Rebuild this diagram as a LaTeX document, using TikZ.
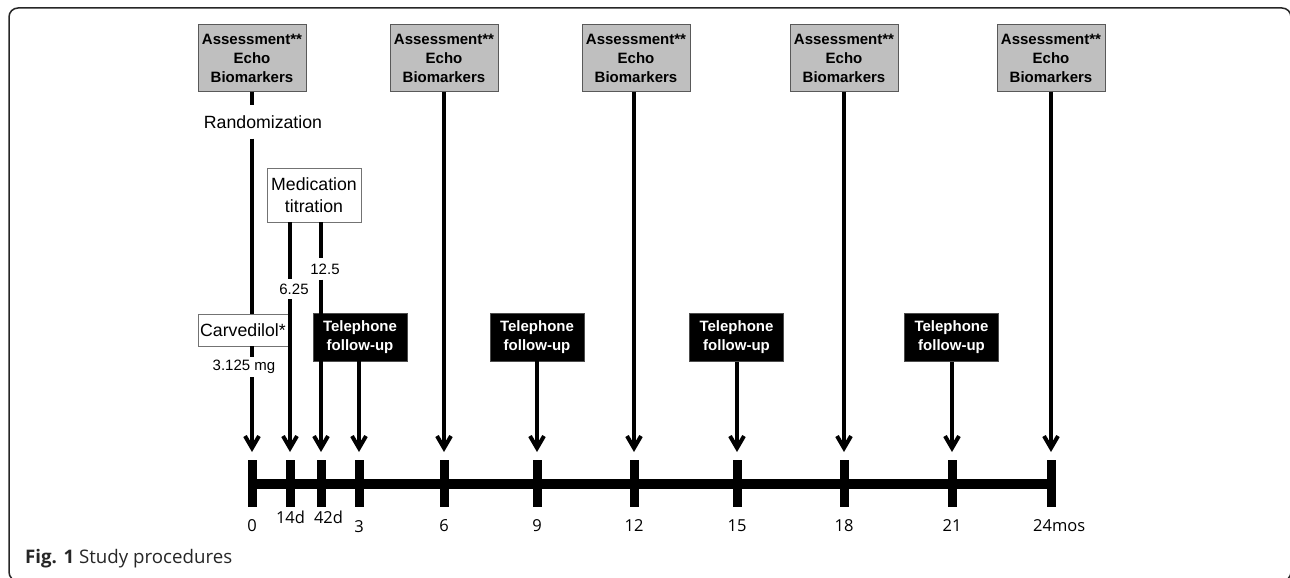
\documentclass[tikz,border=0pt]{standalone}
\usepackage{fontspec}
\setmainfont{Liberation Sans}
\newfontfamily\osans{Open Sans}
\usetikzlibrary{arrows.meta}
\begin{document}
\begin{tikzpicture}[x=1pt,y=-1pt,
 assess/.style={draw=black!65, fill=black!25, line width=1pt, minimum width=108pt, minimum height=66pt, inner sep=0pt, align=center, font=\fontsize{15}{19}\selectfont\bfseries},
 phone/.style={draw=black!70, fill=black, text=white, minimum width=94pt, minimum height=48pt, inner sep=0pt, align=center, font=\fontsize{15}{19}\selectfont\bfseries},
 wbox/.style={draw=black!55, fill=white, line width=0.8pt, inner sep=0pt, align=center, font=\fontsize{17.7}{22}\selectfont},
 num/.style={inner sep=0pt, font=\fontsize{15}{18}\selectfont},
 tickbar/.style={fill=black, minimum width=9pt, minimum height=47pt, inner sep=0pt},
 ticklab/.style={font=\osans\fontsize{16.5}{20}\selectfont, inner sep=0pt},
 arr/.style={line width=4pt, -{Straight Barb[length=12pt,width=14pt]}},
 seg/.style={line width=4pt},
]
\clip (0,0) rectangle (1290,578);
\draw[line width=1.5pt, black!85, rounded corners=9pt] (9,8) rectangle (1291,581);

% assessment boxes
\node[assess] (a0)  at (252,58) {Assessment**\\Echo\\Biomarkers};
\node[assess] (a6)  at (444,58) {Assessment**\\Echo\\Biomarkers};
\node[assess] (a12) at (636,58) {Assessment**\\Echo\\Biomarkers};
\node[assess] (a18) at (844,58) {Assessment**\\Echo\\Biomarkers};
\node[assess] (a24) at (1051,58) {Assessment**\\Echo\\Biomarkers};

% telephone boxes
\node[phone] (t3)  at (360,337) {Telephone\\follow-up};
\node[phone] (t9)  at (537,337) {Telephone\\follow-up};
\node[phone] (t15) at (736.5,337.5) {Telephone\\follow-up};
\node[phone] (t21) at (951.5,337.5) {Telephone\\follow-up};

% labels
\node[inner sep=0pt, minimum height=33pt, font=\fontsize{17.7}{20}\selectfont] (rand) at (263,122) {Randomization};
\node[wbox, minimum width=94pt, minimum height=54pt] (med) at (314,195) {Medication\\titration};
\node[wbox, minimum width=90pt, minimum height=32pt] (carv) at (243,330) {Carvedilol*};
\node[num, minimum height=20pt] (n625) at (294,289) {6.25};
\node[num, minimum height=21pt] (n125) at (325,269) {12.5};
\node[num, minimum height=20pt] (n3125) at (244,367) {3.125 mg};

% arrow tips
\coordinate (p0)  at (252,452);
\coordinate (p14) at (290,452);
\coordinate (p42) at (321,452);
\coordinate (p3)  at (359,452);
\coordinate (p6)  at (444,452);
\coordinate (p9)  at (537,452);
\coordinate (p12) at (634,452);
\coordinate (p15) at (737,452);
\coordinate (p18) at (844,452);
\coordinate (p21) at (952,452);
\coordinate (p24) at (1051,452);

% ticks
\node[tickbar] (k0)  at (252,483.5) {};
\node[tickbar] (k14) at (290,483.5) {};
\node[tickbar] (k42) at (321,483.5) {};
\node[tickbar] (k3)  at (359,483.5) {};
\node[tickbar] (k6)  at (444,483.5) {};
\node[tickbar] (k9)  at (537,483.5) {};
\node[tickbar] (k12) at (634,483.5) {};
\node[tickbar] (k15) at (737,483.5) {};
\node[tickbar] (k18) at (844,483.5) {};
\node[tickbar] (k21) at (952,483.5) {};
\node[tickbar] (k24) at (1051,483.5) {};
\draw[line width=10pt] (k0.center) -- (k24.center);

% tick labels
\node[ticklab] (l0)  at (252,526) {0};
\node[ticklab] (l14) at (290.5,517) {14d};
\node[ticklab] (l42) at (328.5,517) {42d};
\node[ticklab] (l3)  at (359,527) {3};
\node[ticklab] (l6)  at (444,526) {6};
\node[ticklab] (l9)  at (537,526) {9};
\node[ticklab] (l12) at (634,526) {12};
\node[ticklab] (l15) at (737,526) {15};
\node[ticklab] (l18) at (844,526) {18};
\node[ticklab] (l21) at (952,526) {21};
\node[ticklab, anchor=west] (l24) at (1033,526) {24mos};

% connectors
\draw[seg] (a0.south -| p0) -- (rand.north -| p0);
\draw[seg] (rand.south -| p0) -- (carv.north -| p0);
\draw[seg] (carv.south -| p0) -- (n3125.north -| p0);
\draw[arr] (n3125.south -| p0) -- (p0);
\draw[seg] (med.south -| p14) -- (n625.north -| p14);
\draw[arr] (n625.south -| p14) -- (p14);
\draw[seg] (med.south -| p42) -- (n125.north -| p42);
\draw[arr] (n125.south -| p42) -- (p42);
\draw[arr] (t3.south -| p3) -- (p3);
\draw[arr] (t9.south -| p9) -- (p9);
\draw[arr] (t15.south -| p15) -- (p15);
\draw[arr] (t21.south -| p21) -- (p21);
\draw[arr] (a6.south -| p6) -- (p6);
\draw[arr] (a12.south -| p12) -- (p12);
\draw[arr] (a18.south -| p18) -- (p18);
\draw[arr] (a24.south -| p24) -- (p24);

% caption
\node[anchor=base west, inner sep=0pt, font=\osans\fontsize{18.7}{22}\selectfont, text=black!85] (cap) at (25,563) {\textbf{Fig. 1} Study procedures};
\end{tikzpicture}
\end{document}
